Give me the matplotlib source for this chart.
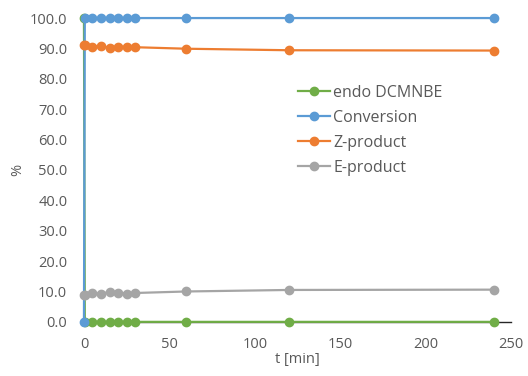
import matplotlib.pyplot as plt

# Data
t_min = [0, 0.5, 5, 10, 15, 20, 25, 30, 60, 120, 240]
endo = [100.0, 0.0, 0.0, 0.0, 0.0, 0.0, 0.0, 0.0, 0.0, 0.0, 0.0]
conversion = [0.0, 100.0, 100.0, 100.0, 100.0, 100.0, 100.0, 100.0, 100.0, 100.0, 100.0]
z_product = [91.0, 91.0, 90.6, 90.8, 90.2, 90.4, 90.6, 90.4, 89.9, 89.4, 89.3]
e_product = [9.0, 9.0, 9.4, 9.3, 9.8, 9.6, 9.3, 9.5, 10.0, 10.5, 10.6]

series = [
    ("endo DCMNBE", endo, "#70AD47"),
    ("Conversion", conversion, "#5B9BD5"),
    ("Z-product", z_product, "#ED7D31"),
    ("E-product", e_product, "#A5A5A5"),
]

plt.rcParams['font.family'] = ['Open Sans', 'DejaVu Sans']
text_color = "#595959"

fig = plt.figure(figsize=(5.28, 3.76), dpi=100)
ax = fig.add_axes([0.159, 0.144, 0.809, 0.808])

for name, vals, col in series:
    ax.plot(t_min, vals, color=col, marker='o', markersize=6, linewidth=1.6,
            label=name, clip_on=False)

ax.set_xlim(0, 250)
ax.set_ylim(0, 100)
ax.set_xticks(range(0, 251, 50))
ax.set_yticks(range(0, 101, 10))
ax.set_yticklabels([f"{v:.1f}" for v in range(0, 101, 10)])
ax.tick_params(length=0, labelsize=10.5, colors=text_color)
ax.tick_params(axis='y', pad=12)
ax.tick_params(axis='x', pad=11)

for side in ['top', 'right', 'left']:
    ax.spines[side].set_visible(False)
ax.spines['bottom'].set_color('#262626')
ax.spines['bottom'].set_linewidth(1.0)
ax.spines['bottom'].set_zorder(0)

ax.set_xlabel("t [min]", fontsize=10.5, color=text_color, labelpad=0)
ax.set_ylabel("%", fontsize=10.5, color=text_color, labelpad=3)

fig.legend(*ax.get_legend_handles_labels(), loc='upper left',
           bbox_to_anchor=(298 / 528, 1 - 85 / 376), frameon=False,
           borderpad=0, borderaxespad=0, fontsize=11.5, labelcolor=text_color,
           handlelength=2.0, handletextpad=0.2, labelspacing=0.56)

fig.savefig("out.png", dpi=100)
